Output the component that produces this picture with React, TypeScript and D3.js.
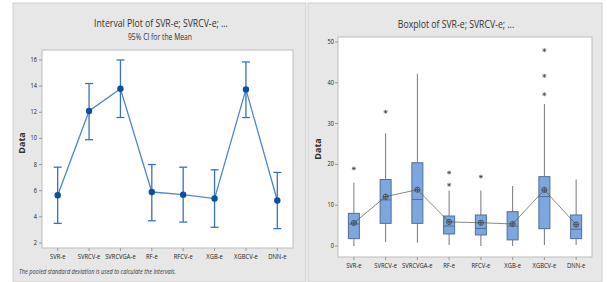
import React from "react";
import * as d3 from "d3";

const categories = ["SVR-e", "SVRCV-e", "SVRCVGA-e", "RF-e", "RFCV-e", "XGB-e", "XGBCV-e", "DNN-e"];
const means = [5.65, 12.1, 13.8, 5.9, 5.7, 5.4, 13.75, 5.25];
const ciLow = [3.5, 9.9, 11.6, 3.7, 3.6, 3.2, 11.6, 3.1];
const ciHigh = [7.8, 14.2, 16.0, 8.0, 7.8, 7.6, 15.85, 7.4];
const leftTicks = [2, 4, 6, 8, 10, 12, 14, 16];

const q1 = [1.8, 5.55, 5.55, 2.95, 2.7, 1.5, 4.25, 1.8];
const medians = [5.4, 11.3, 11.4, 4.9, 4.3, 4.9, 12.1, 4.1];
const q3 = [8.0, 16.3, 20.4, 7.35, 7.6, 8.4, 17.0, 7.6];
const whiskLow = [0, 1.0, 0.8, 0.25, 0, 0, 0.25, 0.25];
const whiskHigh = [15.5, 27.6, 42.2, 13.6, 13.6, 14.7, 34.8, 16.3];
const outliers = [[19.0], [32.9], [], [18.0, 15.0], [17.0], [], [48.0, 41.7, 37.2], []];
const rightTicks = [0, 10, 20, 30, 40, 50];

const FONT = "'Open Sans', 'DejaVu Sans', sans-serif";

function T(props: { x: number; y: number; size: number; sx?: number; anchor?: string; children: any; weight?: any; italic?: boolean; fill?: string; rotate?: number }) {
  const { x, y, size, sx = 0.8, anchor = "middle", children, weight, italic, fill = "#222", rotate = 0 } = props;
  return (
    <text
      transform={`translate(${x},${y}) rotate(${rotate}) scale(${sx},1)`}
      fontSize={size}
      textAnchor={anchor as any}
      fontFamily={FONT}
      fontWeight={weight}
      fontStyle={italic ? "italic" : undefined}
      fill={fill}
    >
      {children}
    </text>
  );
}

export default function App() {
  // left panel
  const L = { x0: 42, x1: 293, y0: 50, y1: 248 };
  const lx = d3.scalePoint().domain(categories).range([L.x0, L.x1]).padding(0.5);
  const ly = d3.scaleLinear().domain([2, 16]).range([243, 60]);
  const line = d3.line<number>().x((_, i) => lx(categories[i])!).y((d) => ly(d));

  // right panel
  const R = { x0: 338, x1: 592, y0: 37, y1: 257 };
  const rx = d3.scalePoint().domain(categories).range([R.x0, R.x1]).padding(0.5);
  const ry = d3.scaleLinear().domain([0, 50]).range([246, 42]);
  const rline = d3.line<number>().x((_, i) => rx(categories[i])!).y((d) => ry(d));
  const bw = 11;

  const star = (x: number, y: number, k: string) => (
    <g key={k} stroke="#444" strokeWidth={0.7}>
      <line x1={x - 2} y1={y} x2={x + 2} y2={y} />
      <line x1={x} y1={y - 2} x2={x} y2={y + 2} />
      <line x1={x - 1.5} y1={y - 1.5} x2={x + 1.5} y2={y + 1.5} />
      <line x1={x - 1.5} y1={y + 1.5} x2={x + 1.5} y2={y - 1.5} />
    </g>
  );

  return (
    <svg width={607} height={282} style={{ position: "absolute", left: 0, top: 0 }}>
      <rect x={0} y={0} width={607} height={282} fill="#ffffff" />
      {/* Left panel */}
      <rect x={13} y={3} width={293} height={279} fill="#e7e7e7" stroke="#cfcfcf" strokeWidth={1} />
      <rect x={L.x0} y={L.y0} width={L.x1 - L.x0} height={L.y1 - L.y0} fill="#fff" stroke="#bdbdbd" strokeWidth={1} />
      <T x={161} y={27} size={11} sx={0.79} fill="#333">Interval Plot of SVR-e; SVRCV-e; ...</T>
      <T x={160} y={40} size={8.5} sx={0.8} fill="#333">95% CI for the Mean</T>
      <T x={25} y={143} size={9} sx={1} rotate={-90} weight="bold" fill="#333">Data</T>
      {leftTicks.map((t) => (
        <g key={"lt" + t}>
          <line x1={L.x0 - 3} x2={L.x0} y1={ly(t)} y2={ly(t)} stroke="#999" />
          <T x={L.x0 - 5} y={ly(t) + 2} size={7} anchor="end" sx={0.8}>{t}</T>
        </g>
      ))}
      {categories.map((c) => (
        <g key={"lx" + c}>
          <line x1={lx(c)!} x2={lx(c)!} y1={L.y1} y2={L.y1 + 3} stroke="#999" />
          <T x={lx(c)!} y={L.y1 + 11} size={7.5} sx={0.78}>{c}</T>
        </g>
      ))}
      <path d={line(means) || ""} fill="none" stroke="#4f86cc" strokeWidth={1.3} />
      {categories.map((c, i) => {
        const x = lx(c)!;
        return (
          <g key={"ci" + c} stroke="#3673bf" strokeWidth={1.3}>
            <line x1={x} x2={x} y1={ly(ciLow[i])} y2={ly(ciHigh[i])} />
            <line x1={x - 4} x2={x + 4} y1={ly(ciLow[i])} y2={ly(ciLow[i])} />
            <line x1={x - 4} x2={x + 4} y1={ly(ciHigh[i])} y2={ly(ciHigh[i])} />
          </g>
        );
      })}
      {categories.map((c, i) => (
        <circle key={"m" + c} cx={lx(c)!} cy={ly(means[i])} r={3.2} fill="#0d4f9e" />
      ))}
      <T x={19} y={274} size={7} anchor="start" sx={0.8} italic fill="#333">The pooled standard deviation is used to calculate the intervals.</T>

      {/* Right panel */}
      <rect x={308} y={3} width={294} height={279} fill="#e7e7e7" stroke="#cfcfcf" strokeWidth={1} />
      <rect x={R.x0} y={R.y0} width={R.x1 - R.x0} height={R.y1 - R.y0} fill="#fff" stroke="#bdbdbd" strokeWidth={1} />
      <T x={456} y={28} size={11} sx={0.79} fill="#333">Boxplot of SVR-e; SVRCV-e; ...</T>
      <T x={321} y={149} size={9} sx={1} rotate={-90} weight="bold" fill="#333">Data</T>
      {rightTicks.map((t) => (
        <g key={"rt" + t}>
          <line x1={R.x0 - 3} x2={R.x0} y1={ry(t)} y2={ry(t)} stroke="#999" />
          <T x={R.x0 - 4} y={ry(t) + 2} size={7} anchor="end" sx={0.8}>{t}</T>
        </g>
      ))}
      {categories.map((c) => (
        <g key={"rx" + c}>
          <line x1={rx(c)!} x2={rx(c)!} y1={R.y1} y2={R.y1 + 3} stroke="#999" />
          <T x={rx(c)!} y={R.y1 + 11} size={7.5} sx={0.78}>{c}</T>
        </g>
      ))}
      {categories.map((c, i) => {
        const x = rx(c)!;
        return (
          <g key={"bx" + c}>
            <line x1={x} x2={x} y1={ry(whiskLow[i])} y2={ry(q1[i])} stroke="#777" strokeWidth={1} />
            <line x1={x} x2={x} y1={ry(q3[i])} y2={ry(whiskHigh[i])} stroke="#777" strokeWidth={1} />
            <rect x={x - bw / 2} y={ry(q3[i])} width={bw} height={ry(q1[i]) - ry(q3[i])} fill="#7ea7df" stroke="#4e6f98" strokeWidth={1} />
            <line x1={x - bw / 2} x2={x + bw / 2} y1={ry(medians[i])} y2={ry(medians[i])} stroke="#4e6f98" strokeWidth={1} />
            {outliers[i].map((o, j) => star(x, ry(o), c + j))}
          </g>
        );
      })}
      <path d={rline(means) || ""} fill="none" stroke="#555" strokeWidth={0.7} />
      {categories.map((c, i) => {
        const x = rx(c)!;
        const y = ry(means[i]);
        return (
          <g key={"rm" + c} stroke="#444" strokeWidth={0.8} fill="none">
            <circle cx={x} cy={y} r={2.6} />
            <line x1={x - 2.6} x2={x + 2.6} y1={y} y2={y} />
            <line x1={x} x2={x} y1={y - 2.6} y2={y + 2.6} />
          </g>
        );
      })}
    </svg>
  );
}
